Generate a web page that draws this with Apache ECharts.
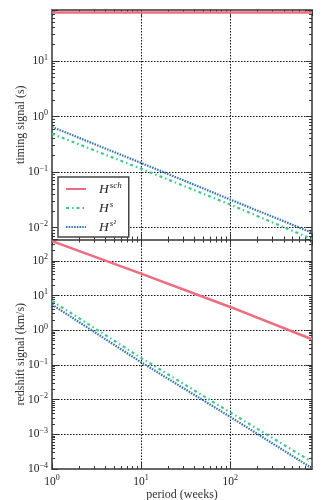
<!DOCTYPE html>
<html lang="en">
<head>
  <meta charset="UTF-8">
  <title>timing / redshift signal</title>
  <style>
    body { margin: 0; background: #fff; }
    #main { width: 325px; height: 500px; }
  </style>
</head>
<body>
<div id="main"></div>
<script src="https://cdn.jsdelivr.net/npm/echarts@6/dist/echarts.min.js"></script>
<script>
  let periods = [1, 10, 100, 830];

  // top panel: timing signal (s)
  let timingSch = [75, 75, 75, 75];
  let timingS = [0.49, 0.115, 0.026, 0.0062];
  let timingS2 = [0.65, 0.146, 0.032, 0.0081];

  // bottom panel: redshift signal (km/s)
  let redshiftSch = [370, 43, 4.7, 0.55];
  let redshiftS = [7.0, 0.16, 0.0043, 0.00016];
  let redshiftS2 = [5.5, 0.12, 0.0032, 0.000105];

  let names = ['Hsch', 'Hs', 'Hs2'];
  let colors = ['#ef6b80', '#3ec98a', '#2f6fb1'];
  let serif = '"Liberation Serif", "DejaVu Serif", serif';

  let pairs = (ys) => periods.map((p, i) => [p, ys[i]]);

  // 10^n labels, only at whole decades
  function powLabel(v) {
    let e = Math.log10(v);
    if (Math.abs(e - Math.round(e)) > 1e-6) return '';
    let n = Math.round(e);
    return '{b|10}{e|' + (n < 0 ? '\u2212' + (-n) : n) + '}';
  }
  let labelRich = {
    b: { fontFamily: serif, fontSize: 11.5, color: '#222' },
    e: { fontFamily: serif, fontSize: 8, color: '#222', verticalAlign: 'top', padding: [0, 0, 7, 0] }
  };

  // 2..9 x 10^d between min and max
  function minorValues(min, max) {
    let out = [];
    for (let d = Math.floor(Math.log10(min)); d <= Math.ceil(Math.log10(max)); d++) {
      for (let k = 2; k <= 9; k++) {
        let v = k * Math.pow(10, d);
        if (v > min && v < max) out.push(v);
      }
    }
    return out;
  }

  function logAxis(grid, pos, min, max, opts) {
    return Object.assign({
      type: 'log',
      logBase: 10,
      gridIndex: grid,
      position: pos,
      min: min,
      max: max,
      axisLine: { show: true, lineStyle: { color: '#666', width: 2 } },
      axisTick: { show: true, inside: true, length: 6, lineStyle: { color: '#333', width: 1 } },
      splitLine: { show: false },
      axisLabel: { show: false }
    }, opts || {});
  }
  function minorAxis(grid, pos, min, max) {
    return logAxis(grid, pos, min, max, {
      axisLine: { show: false },
      axisTick: { show: true, inside: true, length: 3, customValues: minorValues(min, max),
        lineStyle: { color: '#333', width: 1 } }
    });
  }
  let grid = { show: true, lineStyle: { type: [1.5, 1.5], color: '#111', width: 1 } };

  let xMin = 1, xMax = 830;
  let topMin = 0.0061, topMax = 83;
  let botMin = 0.0001, botMax = 414;
  let chart = echarts.init(document.getElementById('main'));

  let option = {
    animation: false,
    backgroundColor: '#fff',
    grid: [
      { left: 52, top: 10, width: 260, height: 229.5, outerBoundsMode: 'none', containLabel: false },
      { left: 52, top: 239.5, width: 260, height: 229.5, outerBoundsMode: 'none', containLabel: false }
    ],
    xAxis: [
      logAxis(0, 'bottom', xMin, xMax, { splitLine: grid }),
      logAxis(0, 'top', xMin, xMax),
      logAxis(1, 'bottom', xMin, xMax, {
        splitLine: grid,
        name: 'period (weeks)',
        nameLocation: 'middle',
        nameGap: 15,
        nameTextStyle: { fontFamily: serif, fontSize: 12, color: '#333' },
        axisLabel: { show: true, margin: 5, formatter: powLabel, rich: labelRich, showMaxLabel: false }
      }),
      logAxis(1, 'top', xMin, xMax),
      minorAxis(0, 'bottom', xMin, xMax),
      minorAxis(0, 'top', xMin, xMax),
      minorAxis(1, 'bottom', xMin, xMax),
      minorAxis(1, 'top', xMin, xMax)
    ],
    yAxis: [
      logAxis(0, 'left', topMin, topMax, {
        splitLine: grid,
        name: 'timing signal (s)',
        nameLocation: 'middle',
        nameGap: 25,
        nameMoveOverlap: false,
        nameTextStyle: { fontFamily: serif, fontSize: 12, color: '#333' },
        axisLabel: { show: true, margin: 4, formatter: powLabel, rich: labelRich }
      }),
      logAxis(0, 'right', topMin, topMax),
      logAxis(1, 'left', botMin, botMax, {
        splitLine: grid,
        name: 'redshift signal (km/s)',
        nameLocation: 'middle',
        nameGap: 25,
        nameMoveOverlap: false,
        nameTextStyle: { fontFamily: serif, fontSize: 12, color: '#333' },
        axisLabel: { show: true, margin: 4, formatter: powLabel, rich: labelRich }
      }),
      logAxis(1, 'right', botMin, botMax),
      minorAxis(0, 'left', topMin, topMax),
      minorAxis(0, 'right', topMin, topMax),
      minorAxis(1, 'left', botMin, botMax),
      minorAxis(1, 'right', botMin, botMax)
    ],
    legend: {
      orient: 'vertical',
      left: 58,
      top: 177,
      data: names,
      backgroundColor: '#fff',
      borderColor: '#444',
      borderWidth: 1.5,
      borderRadius: 0,
      padding: [4, 7, 3, 7],
      itemWidth: 20,
      itemHeight: 10,
      itemGap: 4,
      itemStyle: { opacity: 0 },
      formatter: function (n) {
        let sup = { Hsch: 'sch', Hs: 's', Hs2: 's\u00b2' }[n];
        return '{h|H}{s|' + sup + '}';
      },
      textStyle: {
        padding: [0, 0, 0, 8],
        rich: {
          h: { fontFamily: serif, fontStyle: 'italic', fontSize: 13.5, color: '#222', lineHeight: 16 },
          s: { fontFamily: serif, fontStyle: 'italic', fontSize: 9, color: '#222', verticalAlign: 'top', padding: [0, 0, 7, 1] }
        }
      }
    },
    series: []
  };

  let styles = [
    { type: 'solid', width: 2.5 },
    { type: [3, 3, 1.5, 3], width: 2.2 },
    { type: [1.5, 1.2], width: 2.2 }
  ];
  let panels = [
    [timingSch, timingS, timingS2],
    [redshiftSch, redshiftS, redshiftS2]
  ];
  panels.forEach((sets, g) => {
    sets.forEach((ys, i) => {
      option.series.push({
        name: names[i],
        type: 'line',
        xAxisIndex: g * 2,
        yAxisIndex: g * 2,
        data: pairs(ys),
        symbol: 'none',
        color: colors[i],
        lineStyle: Object.assign({ color: colors[i] }, styles[i]),
        z: 3
      });
    });
  });

  chart.setOption(option);
</script>
</body>
</html>
